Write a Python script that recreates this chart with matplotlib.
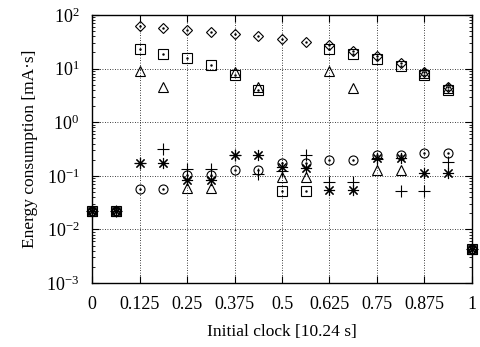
import matplotlib
matplotlib.use("Agg")
from matplotlib import pyplot as plt
from matplotlib.ticker import LogLocator, NullFormatter

plt.rcParams["font.family"] = ["Liberation Serif", "DejaVu Serif"]
plt.rcParams["mathtext.fontset"] = "custom"
plt.rcParams["mathtext.rm"] = "Liberation Serif"

clock = [0, 0.0625, 0.125, 0.1875, 0.25, 0.3125, 0.375, 0.4375, 0.5,
         0.5625, 0.625, 0.6875, 0.75, 0.8125, 0.875, 0.9375, 1]

diamond = [0.022, 0.022, 62, 56, 53, 48, 45, 41, 36, 31, 27, 21, 17, 12.5, 8.5, 4.5, 0.0043]
square = [0.022, 0.022, 23, 19, 15.6, 11.5, 7.6, 4.0, 0.053, 0.053, 23, 19, 15, 11, 7.7, 4.0, 0.0043]
triangle = [0.022, 0.022, 9.0, 4.5, 0.059, 0.059, 8.7, 4.5, 0.093, 0.097, 9.0, 4.4, 0.128, 0.128, 8.3, 4.3, 0.0043]
plus = [0.022, 0.022, 0.171, 0.31, 0.132, 0.132, 0.244, 0.108, 0.125, 0.244, 0.078, 0.078, 0.21, 0.051, 0.051, 0.183, 0.0043]
asterisk = [0.022, 0.022, 0.171, 0.171, 0.085, 0.085, 0.244, 0.244, 0.145, 0.14, 0.054, 0.054, 0.215, 0.215, 0.111, 0.111, 0.0043]
circle = [0.022, 0.022, 0.056, 0.056, 0.105, 0.105, 0.128, 0.128, 0.171, 0.171, 0.197, 0.197, 0.244, 0.244, 0.27, 0.27, 0.0043]

x_ticks = [0, 0.125, 0.25, 0.375, 0.5, 0.625, 0.75, 0.875, 1]
x_labels = ["0", "0.125", "0.25", "0.375", "0.5", "0.625", "0.75", "0.875", "1"]

fig = plt.figure(figsize=(4.8, 3.47), dpi=100)
ax = fig.add_axes([0.1917, 0.1844, 0.7916, 0.7724])

kw = dict(linestyle="none", color="black", markerfacecolor="none",
          markeredgewidth=0.8, clip_on=False, zorder=3)
ax.plot(clock, diamond, marker="D", markersize=5, **kw)
ax.plot(clock, square, marker="s", markersize=6.5, **kw)
ax.plot(clock, triangle, marker="^", markersize=6.5, **kw)
ax.plot(clock, plus, marker="+", markersize=8, **kw)
ax.plot(clock, asterisk, marker=(8, 2, 0), markersize=8, **kw)
ax.plot(clock, circle, marker="o", markersize=6.5, **kw)
# centre dots for the open symbols
for ys in (diamond, square, circle):
    ax.plot(clock, ys, linestyle="none", marker=".", markersize=1.5,
            color="black", clip_on=False, zorder=4)

ax.set_yscale("log")
ax.set_xlim(0, 1)
ax.set_ylim(1e-3, 1e2)
ax.set_xticks(x_ticks)
ax.set_xticklabels(x_labels)
ax.yaxis.set_major_locator(LogLocator(base=10, numticks=10))
ax.yaxis.set_minor_locator(LogLocator(base=10, subs=range(2, 10), numticks=10))
ax.yaxis.set_minor_formatter(NullFormatter())

ax.tick_params(which="both", direction="in", top=True, right=True,
               labelsize=13, colors="black")
ax.tick_params(which="major", length=5, width=0.8, pad=9)
ax.tick_params(which="minor", length=2.5, width=0.6)
ax.grid(True, which="major", linestyle=(0, (1, 2)), color="black", linewidth=0.6)

for s in ax.spines.values():
    s.set_linewidth(1.0)

ax.set_xlabel("Initial clock [10.24 s]", fontsize=12.5, labelpad=8)
ax.set_ylabel("Energy consumption [mA·s]", fontsize=12.5, labelpad=6)

fig.savefig("out.png", dpi=100)
